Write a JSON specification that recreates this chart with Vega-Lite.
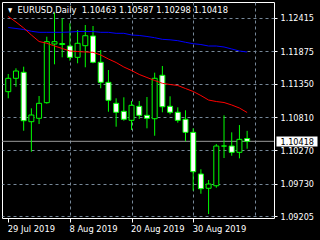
{
  "$schema": "https://vega.github.io/schema/vega-lite/v6.json",
  "width": 272,
  "height": 216,
  "autosize": {"type": "none"},
  "padding": {"left": 2, "top": 2, "right": 46, "bottom": 22},
  "background": "#000000",
  "config": {
    "view": {"stroke": "#ffffff", "strokeWidth": 1},
    "axis": {"labelFont": "DejaVu Sans Condensed", "titleFont": "DejaVu Sans Condensed"}
  },
  "title": {
    "text": "▾\u00a0\u00a0EURUSD,Daily\u00a0 1.10463 1.10587 1.10298 1.10418",
    "anchor": "start",
    "frame": "group",
    "orient": "top",
    "offset": -13,
    "dx": 6,
    "color": "#ffffff",
    "fontSize": 9.3,
    "fontWeight": "normal",
    "font": "DejaVu Sans Condensed"
  },
  "data": {
    "values": [
      {"i": 0, "date": "2019-07-29", "open": 1.11220, "high": 1.11506, "low": 1.11113, "close": 1.11436, "ma_blue": 1.12257, "ma_red": 1.12435},
      {"i": 1, "date": "2019-07-30", "open": 1.11436, "high": 1.11598, "low": 1.11300, "close": 1.11554, "ma_blue": 1.12241, "ma_red": 1.12346},
      {"i": 2, "date": "2019-07-31", "open": 1.11533, "high": 1.11624, "low": 1.10589, "close": 1.10751, "ma_blue": 1.12225, "ma_red": 1.12249},
      {"i": 3, "date": "2019-08-01", "open": 1.10735, "high": 1.10951, "low": 1.10250, "close": 1.10843, "ma_blue": 1.12196, "ma_red": 1.12136},
      {"i": 4, "date": "2019-08-02", "open": 1.10790, "high": 1.11150, "low": 1.10698, "close": 1.11032, "ma_blue": 1.12179, "ma_red": 1.12031},
      {"i": 5, "date": "2019-08-05", "open": 1.11042, "high": 1.12108, "low": 1.11026, "close": 1.12028, "ma_blue": 1.12179, "ma_red": 1.12002},
      {"i": 6, "date": "2019-08-06", "open": 1.11990, "high": 1.12496, "low": 1.11662, "close": 1.12028, "ma_blue": 1.12179, "ma_red": 1.11958},
      {"i": 7, "date": "2019-08-07", "open": 1.11982, "high": 1.12406, "low": 1.11775, "close": 1.11998, "ma_blue": 1.12179, "ma_red": 1.11918},
      {"i": 8, "date": "2019-08-08", "open": 1.11958, "high": 1.12325, "low": 1.11721, "close": 1.11775, "ma_blue": 1.12184, "ma_red": 1.11877},
      {"i": 9, "date": "2019-08-09", "open": 1.11775, "high": 1.12217, "low": 1.11679, "close": 1.12002, "ma_blue": 1.12192, "ma_red": 1.11869},
      {"i": 10, "date": "2019-08-12", "open": 1.11963, "high": 1.12297, "low": 1.11614, "close": 1.12124, "ma_blue": 1.12192, "ma_red": 1.11861},
      {"i": 11, "date": "2019-08-13", "open": 1.12120, "high": 1.12281, "low": 1.11679, "close": 1.11695, "ma_blue": 1.12192, "ma_red": 1.11856},
      {"i": 12, "date": "2019-08-14", "open": 1.11695, "high": 1.11893, "low": 1.11275, "close": 1.11371, "ma_blue": 1.12179, "ma_red": 1.11813},
      {"i": 13, "date": "2019-08-15", "open": 1.11371, "high": 1.11570, "low": 1.10896, "close": 1.11081, "ma_blue": 1.12179, "ma_red": 1.11748},
      {"i": 14, "date": "2019-08-16", "open": 1.11032, "high": 1.11113, "low": 1.10654, "close": 1.10887, "ma_blue": 1.12163, "ma_red": 1.11691},
      {"i": 15, "date": "2019-08-19", "open": 1.10903, "high": 1.11129, "low": 1.10751, "close": 1.10774, "ma_blue": 1.12163, "ma_red": 1.11619},
      {"i": 16, "date": "2019-08-20", "open": 1.10757, "high": 1.11069, "low": 1.10601, "close": 1.11000, "ma_blue": 1.12136, "ma_red": 1.11562},
      {"i": 17, "date": "2019-08-21", "open": 1.10984, "high": 1.11069, "low": 1.10778, "close": 1.10838, "ma_blue": 1.12128, "ma_red": 1.11498},
      {"i": 18, "date": "2019-08-22", "open": 1.10838, "high": 1.11134, "low": 1.10628, "close": 1.10790, "ma_blue": 1.12112, "ma_red": 1.11449},
      {"i": 19, "date": "2019-08-23", "open": 1.10783, "high": 1.11527, "low": 1.10508, "close": 1.11436, "ma_blue": 1.12092, "ma_red": 1.11401},
      {"i": 20, "date": "2019-08-26", "open": 1.11485, "high": 1.11635, "low": 1.10887, "close": 1.10977, "ma_blue": 1.12066, "ma_red": 1.11355},
      {"i": 21, "date": "2019-08-27", "open": 1.10984, "high": 1.11145, "low": 1.10854, "close": 1.10887, "ma_blue": 1.12058, "ma_red": 1.11336},
      {"i": 22, "date": "2019-08-28", "open": 1.10887, "high": 1.10967, "low": 1.10719, "close": 1.10757, "ma_blue": 1.12044, "ma_red": 1.11320},
      {"i": 23, "date": "2019-08-29", "open": 1.10774, "high": 1.10919, "low": 1.10418, "close": 1.10563, "ma_blue": 1.12018, "ma_red": 1.11271},
      {"i": 24, "date": "2019-08-30", "open": 1.10563, "high": 1.10628, "low": 1.09620, "close": 1.09927, "ma_blue": 1.11995, "ma_red": 1.11223},
      {"i": 25, "date": "2019-09-02", "open": 1.09890, "high": 1.09966, "low": 1.09571, "close": 1.09652, "ma_blue": 1.11982, "ma_red": 1.11158},
      {"i": 26, "date": "2019-09-03", "open": 1.09659, "high": 1.09793, "low": 1.09243, "close": 1.09728, "ma_blue": 1.11958, "ma_red": 1.11085},
      {"i": 27, "date": "2019-09-04", "open": 1.09700, "high": 1.10374, "low": 1.09668, "close": 1.10342, "ma_blue": 1.11958, "ma_red": 1.11061},
      {"i": 28, "date": "2019-09-05", "open": 1.10342, "high": 1.10838, "low": 1.10148, "close": 1.10342, "ma_blue": 1.11942, "ma_red": 1.11045},
      {"i": 29, "date": "2019-09-06", "open": 1.10342, "high": 1.10563, "low": 1.10185, "close": 1.10240, "ma_blue": 1.11910, "ma_red": 1.11005},
      {"i": 30, "date": "2019-09-09", "open": 1.10240, "high": 1.10681, "low": 1.10143, "close": 1.10450, "ma_blue": 1.11877, "ma_red": 1.10956},
      {"i": 31, "date": "2019-09-10", "open": 1.10463, "high": 1.10587, "low": 1.10298, "close": 1.10418, "ma_blue": 1.11861, "ma_red": 1.10883}
    ]
  },
  "resolve": {"scale": {"y": "shared"}, "axis": {"y": "independent"}},
  "layer": [
    {
      "transform": [{"filter": "datum.i == 31"}],
      "mark": {"type": "rule", "color": "#9a9a9a", "strokeWidth": 1},
      "encoding": {
        "y": {
          "field": "close", "type": "quantitative",
          "scale": {"domain": [1.09179, 1.12669], "nice": false, "zero": false},
          "axis": {
            "orient": "right", "values": [1.10418], "format": ".5f", "grid": false, "domain": false,
            "offset": 2, "tickSize": 41, "tickWidth": 10, "tickColor": "#ffffff",
            "labelColor": "#000000", "labelPadding": -37, "labelFontSize": 9, "title": null, "zindex": 2
          }
        }
      }
    },
    {
      "mark": {"type": "rule", "color": "#00ff00", "strokeWidth": 1, "clip": true},
      "encoding": {
        "x": {
          "field": "i", "type": "quantitative",
          "scale": {"domain": [-0.1625, 33.8375], "nice": false, "zero": false},
          "axis": {
            "values": [0, 4, 8, 12, 16, 20, 24, 28, 32],
            "grid": true, "gridColor": "#778899", "gridDash": [3, 3],
            "gridOpacity": {"condition": {"test": "datum.value == 0", "value": 0}, "value": 1},
            "domain": false, "tickColor": "#ffffff", "tickSize": 4,
            "tickOpacity": {"condition": {"test": "datum.value % 8 == 0 && datum.value <= 24", "value": 1}, "value": 0},
            "labelExpr": "datum.value == 0 ? '29 Jul 2019' : datum.value == 8 ? '8 Aug 2019' : datum.value == 16 ? '20 Aug 2019' : datum.value == 24 ? '30 Aug 2019' : ''",
            "labelAlign": "left", "labelOffset": -1, "labelColor": "#ffffff", "labelFontSize": 9.3, "labelPadding": 2,
            "labelFlush": false, "labelOverlap": false, "labelBound": false, "title": null
          }
        },
        "y": {
          "field": "low", "type": "quantitative",
          "scale": {"domain": [1.09179, 1.12669], "nice": false, "zero": false},
          "axis": {
            "orient": "right", "values": [1.09205, 1.0973, 1.1027, 1.1081, 1.1135, 1.11875, 1.12415],
            "format": ".5f", "grid": true, "gridColor": "#778899", "gridDash": [3, 3],
            "domain": false, "tickSize": 3, "tickColor": "#ffffff",
            "labelColor": "#ffffff", "labelFontSize": 9, "labelPadding": 3, "title": null
          }
        },
        "y2": {"field": "high"}
      }
    },
    {
      "mark": {"type": "bar", "width": 5, "stroke": "#00ff00", "strokeWidth": 1, "clip": true},
      "encoding": {
        "x": {"field": "i", "type": "quantitative", "scale": {"domain": [-0.1625, 33.8375], "nice": false, "zero": false}},
        "y": {"field": "open", "type": "quantitative", "scale": {"domain": [1.09179, 1.12669], "nice": false, "zero": false}, "axis": null},
        "y2": {"field": "close"},
        "fill": {"condition": {"test": "datum.close >= datum.open", "value": "#000000"}, "value": "#ffffff"}
      }
    },
    {
      "mark": {"type": "line", "color": "#0000ff", "strokeWidth": 1, "clip": true},
      "encoding": {
        "x": {"field": "i", "type": "quantitative", "scale": {"domain": [-0.1625, 33.8375], "nice": false, "zero": false}},
        "y": {"field": "ma_blue", "type": "quantitative", "scale": {"domain": [1.09179, 1.12669], "nice": false, "zero": false}, "axis": null}
      }
    },
    {
      "mark": {"type": "line", "color": "#ff0000", "strokeWidth": 1, "clip": true},
      "encoding": {
        "x": {"field": "i", "type": "quantitative", "scale": {"domain": [-0.1625, 33.8375], "nice": false, "zero": false}},
        "y": {"field": "ma_red", "type": "quantitative", "scale": {"domain": [1.09179, 1.12669], "nice": false, "zero": false}, "axis": null}
      }
    }
  ]
}
